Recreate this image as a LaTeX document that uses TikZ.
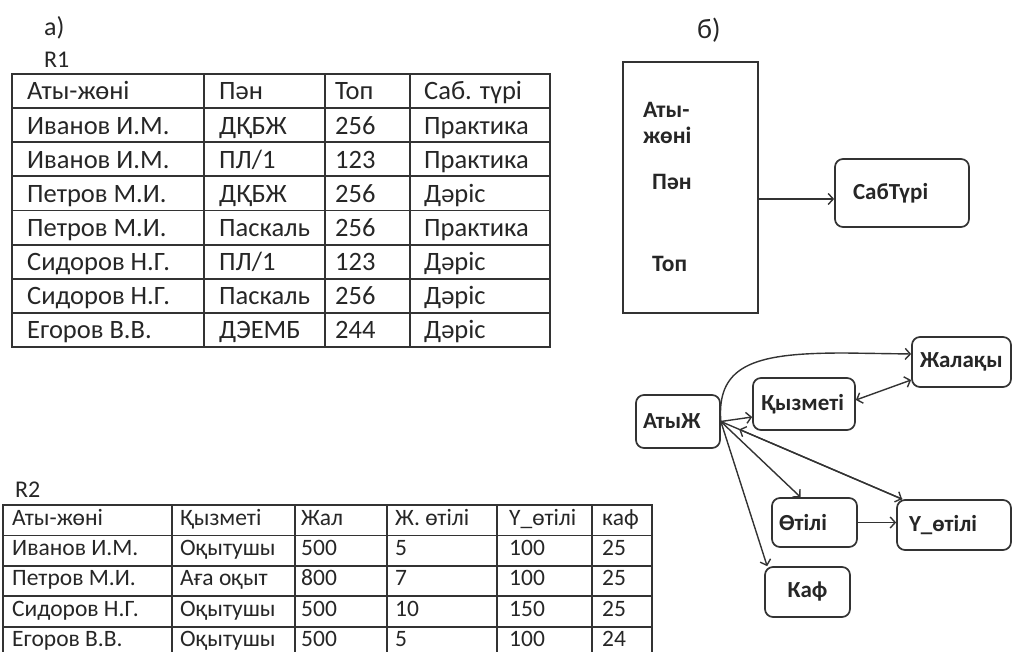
\documentclass[tikz,border=0pt]{standalone}
\usepackage{fontspec}
\setmainfont{Carlito}
\usetikzlibrary{arrows.meta}

\begin{document}
\begin{tikzpicture}[x=1pt,y=-1pt,
  every node/.style={text=black!85},
  grid/.style={draw=black!80,line width=1.8pt},
  cella/.style={anchor=base west,inner sep=0pt,font=\fontsize{26.5}{26.5}\selectfont},
  cellb/.style={anchor=base west,inner sep=0pt,font=\fontsize{23.5}{23.5}\selectfont},
  capt/.style={anchor=base west,inner sep=0pt,font=\fontsize{#1}{#1}\selectfont},
  lbl/.style={anchor=base west,inner sep=0pt,align=left,font=\bfseries\fontsize{23.5}{26}\selectfont},
  rbox/.style={draw=black!80,line width=1.7pt,rounded corners=8pt,inner xsep=8pt,
    text width=#1,minimum height=50pt,align=left,font=\bfseries\fontsize{23}{23}\selectfont},
  link/.style={draw=black!80,line width=1.4pt,-{Straight Barb[length=5pt,width=11pt]}},
  back/.style={draw=black!80,line width=1.4pt,{Straight Barb[length=5pt,width=11pt]}-},
  both/.style={draw=black!80,line width=1.4pt,{Straight Barb[length=5pt,width=11pt]}-{Straight Barb[length=5pt,width=11pt]}}]
\useasboundingbox (0,0) rectangle (1013,652);

% а) R1
\node[capt=26] (capa) at (44,36) {а)};
\node[capt=24] (capr1) at (44,68) {R1};
\draw[grid] (12,74) rectangle (550,347);
\foreach \k in {1,...,7} \draw[grid] (12,{74+34.125*\k}) -- (550,{74+34.125*\k});
\foreach \x in {204,325,410} \draw[grid] (\x,74) -- (\x,347);
\foreach \a/\b/\c/\d [count=\i from 0] in {
  Аты-жөні/Пән/Топ/Саб. түрі,
  Иванов И.М./ДҚБЖ/256/Практика,
  Иванов И.М./{ПЛ/1}/123/Практика,
  Петров М.И./ДҚБЖ/256/Дәріс,
  Петров М.И./Паскаль/256/Практика,
  Сидоров Н.Г./{ПЛ/1}/123/Дәріс,
  Сидоров Н.Г./Паскаль/256/Дәріс,
  Егоров В.В./ДЭЕМБ/244/Дәріс}
{
  \node[cella] (ra\i) at (27,{100+34.125*\i}) {\a};
  \node[cella] (rb\i) at (219,{100+34.125*\i}) {\b};
  \node[cella] (rc\i) at (335,{100+34.125*\i}) {\c};
  \node[cella] (rd\i) at (424,{100+34.125*\i}) {\d};
}

% R2
\node[capt=24] (capr2) at (15,497) {R2};
\draw[grid] (3,505) rectangle (652,658.5);
\foreach \k in {1,...,4} \draw[grid] (3,{505+30.4*\k}) -- (652,{505+30.4*\k});
\foreach \x in {172,295,387,497,592} \draw[grid] (\x,505) -- (\x,658.5);
\foreach \a/\b/\c/\d/\e/\f [count=\i from 0] in {
  Аты-жөні/Қызметі/Жал/Ж. өтілі/Ү\_өтілі/каф,
  Иванов И.М./Оқытушы/500/5/100/25,
  Петров М.И./Аға оқыт/800/7/100/25,
  Сидоров Н.Г./Оқытушы/500/10/150/25,
  Егоров В.В./Оқытушы/500/5/100/24}
{
  \node[cellb] (sa\i) at (12,{525.5+30.2*\i}) {\a};
  \node[cellb] (sb\i) at (180,{525.5+30.2*\i}) {\b};
  \node[cellb] (sc\i) at (301,{525.5+30.2*\i}) {\c};
  \node[cellb] (sd\i) at (395,{525.5+30.2*\i}) {\d};
  \node[cellb] (se\i) at (509,{525.5+30.2*\i}) {\e};
  \node[cellb] (sf\i) at (602,{525.5+30.2*\i}) {\f};
}

% б)
\node[capt=28] (capb) at (697,39) {б)};
\node[draw=black!80,line width=1.8pt,minimum width=135pt,minimum height=251pt] (att) at (690.5,187.5) {};
\node[lbl] (atyzh) at (643,144) {Аты-\\жөні};
\node[lbl] (pan) at (652,190) {Пән};
\node[lbl] (top) at (652,272) {Топ};
\node[rbox=98pt,inner xsep=18pt,minimum height=68pt] (sabt) at (902,193) {СабТүрі};
\draw[link] ([yshift=-11.5pt]att.east) -- ([yshift=-6pt]sabt.west);

% graph
\node[rbox=68pt,minimum height=53pt,inner xsep=7pt,text width=70pt] (atyj) at (678,421.5) {АтыЖ};
\node[rbox=86pt,minimum height=52pt] (qyz) at (804,404) {Қызметі};
\node[rbox=83pt] (zhal) at (961.5,362) {Жалақы};
\node[rbox=69pt,minimum height=49pt,inner xsep=7pt,text width=71pt] (otili) at (814.5,522.5) {Өтілі};
\node[rbox=98pt,inner xsep=12pt,text width=90pt] (yotili) at (954,525) {Ү\_өтілі};
\node[rbox=69pt,align=center] (kaf) at (807.5,592) {Каф};

\draw[link] (atyj.east) .. controls (716,362) and (760,353) .. (845,353) -- ([yshift=8pt]zhal.west);
\draw[link] (atyj.east) -- ([yshift=-13pt]qyz.west);
\draw[both] ([yshift=4pt]qyz.east) -- ([yshift=-18pt]zhal.west);
\draw[link] (atyj.east) -- ([xshift=6pt]yotili.north west);
\draw[back,shorten <=20pt] (atyj.east) -- ([xshift=6pt]yotili.north west);
\draw[link] (atyj.east) -- ([xshift=-14pt]otili.north);
\draw[link] (atyj.east) -- ([xshift=3pt]kaf.north west);
\draw[link] (otili.east) -- (otili.east -| yotili.west);
\end{tikzpicture}
\end{document}
